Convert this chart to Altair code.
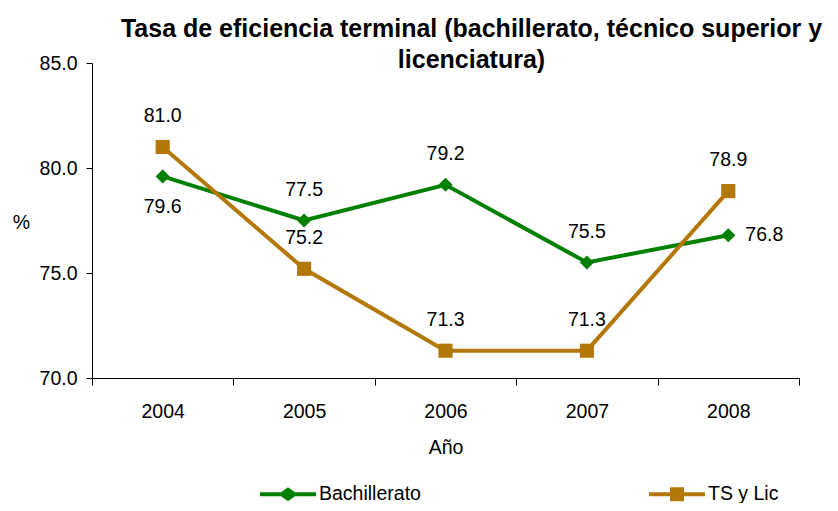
import altair as alt
import pandas as pd

FONT = "Liberation Sans"

years = ["2004", "2005", "2006", "2007", "2008"]
bach = [79.6, 77.5, 79.2, 75.5, 76.8]
tslic = [81.0, 75.2, 71.3, 71.3, 78.9]
bach_pos = ["below", "above", "above", "above", "right"]
tslic_pos = ["above", "above", "above", "above", "above"]
series_names = ["Bachillerato", "TS y Lic"]
colors = ["#008000", "#B3770A"]
marker_shapes = ["diamond", "square"]
y_ticks = [70, 75, 80, 85]

title_lines = ["Tasa de eficiencia terminal (bachillerato, técnico superior y", "licenciatura)"]

rows = []
for s, vals, poss in [(series_names[0], bach, bach_pos), (series_names[1], tslic, tslic_pos)]:
    for yr, v, p in zip(years, vals, poss):
        rows.append({"year": yr, "value": v, "series": s, "pos": p})
df = pd.DataFrame(rows)

x_enc = alt.X(
    "year:N",
    sort=years,
    scale=alt.Scale(type="band", paddingInner=0, paddingOuter=0),
    axis=alt.Axis(
        title="Año",
        labelAngle=0,
        tickBand="extent",
        tickSize=7,
        labelPadding=17,
        titleY=75,
        titleBaseline="alphabetic",
    ),
)
y_enc = alt.Y(
    "value:Q",
    scale=alt.Scale(domain=[70, 85], nice=False, zero=False),
    axis=alt.Axis(
        title="%",
        values=y_ticks,
        format=".1f",
        tickSize=6,
        labelPadding=9,
        titleAngle=0,
        titleX=-71,
        titleY=165,
        titleAlign="center",
        titleBaseline="alphabetic",
    ),
)

layers = []
for s, c, shp in zip(series_names, colors, marker_shapes):
    base = alt.Chart(df).transform_filter(alt.datum.series == s)
    layers.append(base.mark_line(color=c, strokeWidth=4).encode(x=x_enc, y=y_enc))
    layers.append(base.mark_point(color=c, filled=True, opacity=1, shape=shp, size=200).encode(x=x_enc, y=y_enc))

def text_layer(pos, dx, dy, align):
    return alt.Chart(df).transform_filter(alt.datum.pos == pos).mark_text(
        dx=dx, dy=dy, align=align, baseline="middle", fontSize=19.5, font=FONT, color="black"
    ).encode(x=x_enc, y=y_enc, text=alt.Text("value:Q", format=".1f"))

layers.append(text_layer("above", 0, -31, "center"))
layers.append(text_layer("below", 0, 31, "center"))
layers.append(text_layer("right", 17, 0, "left"))

diamond_leg = "M-1,-0.07H-0.25L0,-0.25L0.25,-0.07H1V0.07H0.25L0,0.25L-0.25,0.07H-1Z"
square_leg = "M-1,-0.07H-0.25V-0.25H0.25V-0.07H1V0.07H0.25V0.25H-0.25V0.07H-1Z"

legend_layer = alt.Chart(df).transform_filter("false").mark_point(filled=True, opacity=1).encode(
    x=x_enc,
    y=y_enc,
    color=alt.Color(
        "series:N",
        scale=alt.Scale(domain=series_names, range=colors),
        legend=alt.Legend(
            title=None,
            orient="none",
            legendX=168,
            legendY=403,
            direction="horizontal",
            columnPadding=228,
            symbolSize=3136,
            symbolStrokeWidth=0,
            symbolOpacity=1,
            labelFont=FONT,
            labelFontSize=19.5,
            labelColor="black",
            labelOffset=3,
            padding=0,
        ),
    ),
    shape=alt.Shape(
        "series:N",
        scale=alt.Scale(domain=series_names, range=[diamond_leg, square_leg]),
    ),
)
layers.append(legend_layer)

chart = alt.layer(*layers).properties(
    width=707,
    height=315,
    autosize=alt.AutoSizeParams(type="none"),
    padding={"left": 84, "top": 55, "right": 31, "bottom": 125},
    title=alt.Title(
        text=title_lines,
        font=FONT,
        fontSize=25,
        fontWeight="bold",
        color="black",
        anchor="middle",
        frame="group",
        dx=26,
        offset=-40,
        baseline="alphabetic",
        lineHeight=31,
    ),
).configure_view(stroke=None).configure_axis(
    labelFont=FONT,
    labelFontSize=19.5,
    labelColor="black",
    titleFont=FONT,
    titleFontSize=19.5,
    titleFontWeight="normal",
    titleColor="black",
    domainColor="black",
    tickColor="black",
    grid=False,
)

chart.save("out.html", embed_options={"renderer": "svg", "actions": False})
